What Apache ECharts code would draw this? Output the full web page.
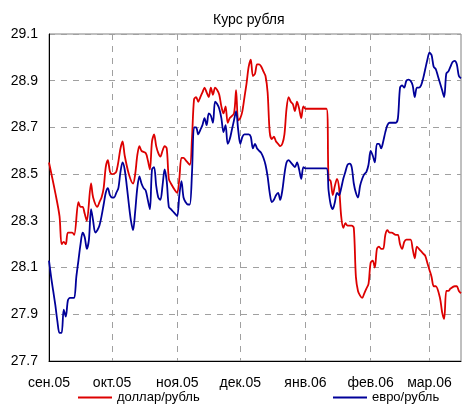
<!DOCTYPE html>
<html>
<head>
<meta charset="utf-8">
<script src="https://cdn.jsdelivr.net/npm/echarts@6/dist/echarts.min.js"></script>
<style>
  html, body { margin: 0; padding: 0; background: #fff; }
  #chart { width: 462px; height: 406px; }
</style>
</head>
<body>
<div id="chart"></div>
<script>
// месячные отметки оси X
var monthTicks = ['2005-09-01', '2005-10-01', '2005-11-01', '2005-12-01', '2006-01-01', '2006-02-01', '2006-03-01'];
var monthLabels = ['сен.05', 'окт.05', 'ноя.05', 'дек.05', 'янв.06', 'фев.06', 'мар.06'];
var yTicks = [27.7, 27.9, 28.1, 28.3, 28.5, 28.7, 28.9, 29.1];

// доллар/рубль
var usdDates = [
  '2005-09-01', '2005-09-04', '2005-09-06', '2005-09-07', '2005-09-08', '2005-09-09', '2005-09-10', '2005-09-12',
  '2005-09-13', '2005-09-15', '2005-09-16', '2005-09-17', '2005-09-18', '2005-09-19', '2005-09-21', '2005-09-22',
  '2005-09-24', '2005-09-25', '2005-09-26', '2005-09-27', '2005-09-28', '2005-09-29', '2005-09-30', '2005-10-01',
  '2005-10-03', '2005-10-05', '2005-10-06', '2005-10-07', '2005-10-09', '2005-10-11', '2005-10-12', '2005-10-13',
  '2005-10-14', '2005-10-15', '2005-10-17', '2005-10-18', '2005-10-19', '2005-10-20', '2005-10-21', '2005-10-22',
  '2005-10-23', '2005-10-24', '2005-10-25', '2005-10-26', '2005-10-27', '2005-10-28', '2005-10-29', '2005-10-31',
  '2005-11-01', '2005-11-02', '2005-11-03', '2005-11-04', '2005-11-05', '2005-11-07', '2005-11-08', '2005-11-09',
  '2005-11-10', '2005-11-11', '2005-11-12', '2005-11-13', '2005-11-14', '2005-11-15', '2005-11-16', '2005-11-17',
  '2005-11-18', '2005-11-19', '2005-11-20', '2005-11-21', '2005-11-22', '2005-11-23', '2005-11-24', '2005-11-25',
  '2005-11-26', '2005-11-28', '2005-11-29', '2005-11-30', '2005-12-01', '2005-12-02', '2005-12-03', '2005-12-04',
  '2005-12-05', '2005-12-06', '2005-12-07', '2005-12-08', '2005-12-09', '2005-12-10', '2005-12-11', '2005-12-12',
  '2005-12-13', '2005-12-14', '2005-12-15', '2005-12-16', '2005-12-17', '2005-12-18', '2005-12-19', '2005-12-20',
  '2005-12-21', '2005-12-22', '2005-12-23', '2005-12-24', '2005-12-25', '2005-12-26', '2005-12-27', '2005-12-28',
  '2005-12-29', '2005-12-30', '2005-12-31', '2006-01-01', '2006-01-11', '2006-01-12', '2006-01-13', '2006-01-14',
  '2006-01-15', '2006-01-16', '2006-01-17', '2006-01-18', '2006-01-19', '2006-01-20', '2006-01-21', '2006-01-22',
  '2006-01-23', '2006-01-24', '2006-01-25', '2006-01-26', '2006-01-27', '2006-01-28', '2006-01-29', '2006-01-30',
  '2006-01-31', '2006-02-01', '2006-02-02', '2006-02-03', '2006-02-04', '2006-02-05', '2006-02-06', '2006-02-07',
  '2006-02-08', '2006-02-09', '2006-02-10', '2006-02-11', '2006-02-13', '2006-02-14', '2006-02-15', '2006-02-16',
  '2006-02-17', '2006-02-18', '2006-02-20', '2006-02-21', '2006-02-22', '2006-02-23', '2006-02-24', '2006-02-25',
  '2006-02-26', '2006-02-27', '2006-02-28', '2006-03-01', '2006-03-02', '2006-03-03', '2006-03-04', '2006-03-06',
  '2006-03-07', '2006-03-08', '2006-03-09', '2006-03-10', '2006-03-11', '2006-03-13', '2006-03-14', '2006-03-15',
  '2006-03-16'
];
var usdValues = [
  28.55, 28.42, 28.32, 28.20, 28.21, 28.20, 28.25, 28.25,
  28.24, 28.38, 28.36, 28.36, 28.33, 28.30, 28.46, 28.40,
  28.36, 28.38, 28.40, 28.44, 28.53, 28.56, 28.51, 28.50,
  28.51, 28.61, 28.64, 28.58, 28.50, 28.46, 28.50, 28.58,
  28.62, 28.60, 28.59, 28.56, 28.52, 28.64, 28.67, 28.62,
  28.59, 28.575, 28.60, 28.62, 28.61, 28.48, 28.46, 28.43,
  28.42, 28.48, 28.57, 28.57, 28.56, 28.54, 28.65, 28.82,
  28.83, 28.81, 28.83, 28.85, 28.87, 28.85, 28.83, 28.87,
  28.84, 28.87, 28.86, 28.84, 28.79, 28.76, 28.79, 28.72,
  28.74, 28.76, 28.86, 28.73, 28.74, 28.77, 28.83, 28.89,
  28.96, 28.99, 28.92, 28.93, 28.97, 28.97, 28.96, 28.94,
  28.92, 28.85, 28.68, 28.65, 28.66, 28.64, 28.63, 28.62,
  28.63, 28.67, 28.78, 28.83, 28.81, 28.80, 28.77, 28.81,
  28.78, 28.74, 28.79, 28.78, 28.78, 28.48, 28.47, 28.41,
  28.45, 28.48, 28.44, 28.32, 28.27, 28.29, 28.28, 28.28,
  28.28, 28.27, 28.06, 28.00, 27.98, 27.97, 27.99, 28.01,
  28.03, 28.12, 28.13, 28.10, 28.18, 28.19, 28.18, 28.18,
  28.24, 28.26, 28.25, 28.25, 28.24, 28.24, 28.20, 28.18,
  28.21, 28.22, 28.22, 28.18, 28.14, 28.19, 28.18, 28.17,
  28.16, 28.15, 28.12, 28.09, 28.06, 28.02, 28.02, 27.97,
  27.91, 27.88, 28.00, 28.00, 28.01, 28.02, 28.02, 28.00,
  27.99
];

// евро/рубль
var eurDates = [
  '2005-09-01', '2005-09-02', '2005-09-03', '2005-09-04', '2005-09-05', '2005-09-06', '2005-09-07', '2005-09-08',
  '2005-09-09', '2005-09-10', '2005-09-11', '2005-09-12', '2005-09-13', '2005-09-14', '2005-09-15', '2005-09-16',
  '2005-09-17', '2005-09-18', '2005-09-19', '2005-09-20', '2005-09-21', '2005-09-22', '2005-09-23', '2005-09-24',
  '2005-09-25', '2005-09-26', '2005-09-27', '2005-09-28', '2005-09-29', '2005-09-30', '2005-10-01', '2005-10-02',
  '2005-10-03', '2005-10-04', '2005-10-05', '2005-10-06', '2005-10-07', '2005-10-08', '2005-10-09', '2005-10-10',
  '2005-10-11', '2005-10-12', '2005-10-13', '2005-10-14', '2005-10-15', '2005-10-16', '2005-10-17', '2005-10-18',
  '2005-10-19', '2005-10-20', '2005-10-21', '2005-10-22', '2005-10-23', '2005-10-24', '2005-10-25', '2005-10-26',
  '2005-10-27', '2005-10-28', '2005-10-29', '2005-10-30', '2005-10-31', '2005-11-01', '2005-11-02', '2005-11-03',
  '2005-11-04', '2005-11-05', '2005-11-06', '2005-11-07', '2005-11-08', '2005-11-09', '2005-11-10', '2005-11-11',
  '2005-11-12', '2005-11-13', '2005-11-14', '2005-11-15', '2005-11-16', '2005-11-17', '2005-11-18', '2005-11-19',
  '2005-11-20', '2005-11-21', '2005-11-22', '2005-11-23', '2005-11-24', '2005-11-25', '2005-11-26', '2005-11-27',
  '2005-11-28', '2005-11-29', '2005-11-30', '2005-12-01', '2005-12-02', '2005-12-03', '2005-12-05', '2005-12-06',
  '2005-12-07', '2005-12-08', '2005-12-09', '2005-12-10', '2005-12-11', '2005-12-12', '2005-12-13', '2005-12-14',
  '2005-12-15', '2005-12-16', '2005-12-17', '2005-12-18', '2005-12-19', '2005-12-20', '2005-12-21', '2005-12-22',
  '2005-12-23', '2005-12-24', '2005-12-25', '2005-12-26', '2005-12-27', '2005-12-28', '2005-12-29', '2005-12-30',
  '2005-12-31', '2006-01-01', '2006-01-11', '2006-01-12', '2006-01-13', '2006-01-14', '2006-01-15', '2006-01-16',
  '2006-01-17', '2006-01-18', '2006-01-19', '2006-01-20', '2006-01-21', '2006-01-22', '2006-01-23', '2006-01-24',
  '2006-01-25', '2006-01-26', '2006-01-27', '2006-01-28', '2006-01-29', '2006-01-30', '2006-01-31', '2006-02-01',
  '2006-02-02', '2006-02-03', '2006-02-04', '2006-02-05', '2006-02-06', '2006-02-07', '2006-02-08', '2006-02-09',
  '2006-02-10', '2006-02-12', '2006-02-13', '2006-02-14', '2006-02-15', '2006-02-16', '2006-02-17', '2006-02-18',
  '2006-02-19', '2006-02-20', '2006-02-21', '2006-02-22', '2006-02-23', '2006-02-24', '2006-02-25', '2006-02-26',
  '2006-02-27', '2006-02-28', '2006-03-01', '2006-03-02', '2006-03-03', '2006-03-04', '2006-03-05', '2006-03-06',
  '2006-03-07', '2006-03-08', '2006-03-09', '2006-03-10', '2006-03-11', '2006-03-12', '2006-03-13', '2006-03-14',
  '2006-03-15', '2006-03-16'
];
var eurValues = [
  28.13, 28.06, 28.00, 27.94, 27.87, 27.82, 27.82, 27.92,
  27.89, 27.96, 27.97, 27.97, 27.97, 28.06, 28.13, 28.20,
  28.25, 28.23, 28.18, 28.22, 28.35, 28.30, 28.25, 28.26,
  28.28, 28.32, 28.37, 28.42, 28.44, 28.41, 28.40, 28.40,
  28.42, 28.44, 28.51, 28.55, 28.52, 28.45, 28.37, 28.30,
  28.26, 28.34, 28.44, 28.49, 28.46, 28.44, 28.43, 28.39,
  28.35, 28.52, 28.53, 28.45, 28.40, 28.39, 28.45, 28.52,
  28.47, 28.36, 28.35, 28.34, 28.33, 28.32, 28.41, 28.47,
  28.40, 28.38, 28.37, 28.37, 28.50, 28.70, 28.70, 28.67,
  28.69, 28.71, 28.74, 28.71, 28.76, 28.75, 28.72, 28.81,
  28.80, 28.78, 28.74, 28.68, 28.71, 28.63, 28.65, 28.69,
  28.73, 28.77, 28.69, 28.63, 28.66, 28.67, 28.67, 28.66,
  28.61, 28.63, 28.61, 28.60, 28.59, 28.57, 28.54, 28.49,
  28.42, 28.38, 28.39, 28.41, 28.42, 28.39, 28.43, 28.50,
  28.55, 28.56, 28.55, 28.54, 28.53, 28.55, 28.52, 28.48,
  28.53, 28.525, 28.525, 28.43, 28.37, 28.35, 28.38, 28.42,
  28.41, 28.44, 28.48, 28.51, 28.54, 28.545, 28.53, 28.46,
  28.42, 28.40, 28.45, 28.48, 28.50, 28.51, 28.54, 28.60,
  28.58, 28.55, 28.63, 28.63, 28.61, 28.64, 28.68, 28.71,
  28.72, 28.72, 28.72, 28.74, 28.87, 28.88, 28.87, 28.90,
  28.905, 28.90, 28.88, 28.83, 28.87, 28.87, 28.88, 28.91,
  28.95, 28.99, 29.02, 29.01, 28.96, 28.95, 28.92, 28.89,
  28.86, 28.83, 28.93, 28.94, 28.96, 28.98, 28.985, 28.97,
  28.92, 28.91
];

// дата 'ГГГГ-ММ-ДД' -> метка времени (UTC)
function ts(s) {
  var p = s.split('-');
  return Date.UTC(+p[0], +p[1] - 1, +p[2]);
}
function pairs(dates, values) {
  return dates.map(function (d, i) { return [ts(d), values[i]]; });
}

var monthTs = monthTicks.map(ts);
var gridDash = { color: '#a0a0a0', type: [6, 6], width: 1 };

var option = {
  animation: false,
  backgroundColor: '#ffffff',
  textStyle: { fontFamily: 'Liberation Sans, Arial, sans-serif' },
  title: {
    text: 'Курс рубля',
    left: 213,
    top: 13,
    padding: 0,
    textStyle: { fontSize: 14, fontWeight: 'normal', color: '#000' }
  },
  legend: [{
    data: ['доллар/рубль'],
    left: 78,
    top: 391,
    padding: 0,
    icon: 'rect',
    itemWidth: 34,
    itemHeight: 2,
    textStyle: { fontSize: 13, color: '#000' }
  }, {
    data: ['евро/рубль'],
    left: 333,
    top: 391,
    padding: 0,
    icon: 'rect',
    itemWidth: 34,
    itemHeight: 2,
    textStyle: { fontSize: 13, color: '#000' }
  }],
  grid: {
    left: 49,
    right: 1,
    top: 34,
    bottom: 45,
    show: true,
    borderColor: '#808080',
    borderWidth: 1
  },
  xAxis: {
    type: 'value',
    min: ts('2005-09-01'),
    max: ts('2006-03-16'),
    axisLine: { lineStyle: { color: '#000', width: 1 } },
    axisTick: { show: false, customValues: monthTs },
    axisLabel: {
      customValues: monthTs,
      fontSize: 14,
      color: '#000',
      margin: 15,
      formatter: function (val) {
        return monthLabels[monthTs.indexOf(val)];
      }
    },
    splitLine: { show: true, lineStyle: gridDash }
  },
  yAxis: {
    type: 'value',
    min: 27.7,
    max: 29.1,
    axisLine: { show: true, lineStyle: { color: '#000', width: 1 } },
    axisTick: { show: false, customValues: yTicks },
    axisLabel: {
      customValues: yTicks,
      fontSize: 14,
      color: '#000',
      margin: 11,
      formatter: function (v) { return v.toFixed(1); }
    },
    splitLine: { show: true, lineStyle: gridDash }
  },
  series: [
    {
      name: 'доллар/рубль',
      type: 'line',
      showSymbol: false,
      smooth: 0.3,
      color: '#dd0000',
      lineStyle: { width: 1.8 },
      data: pairs(usdDates, usdValues)
    },
    {
      name: 'евро/рубль',
      type: 'line',
      showSymbol: false,
      smooth: 0.3,
      color: '#000099',
      lineStyle: { width: 1.8 },
      data: pairs(eurDates, eurValues)
    }
  ]
};

var chartDom = document.getElementById('chart');
var myChart = echarts.init(chartDom);
myChart.setOption(option);
</script>
</body>
</html>
